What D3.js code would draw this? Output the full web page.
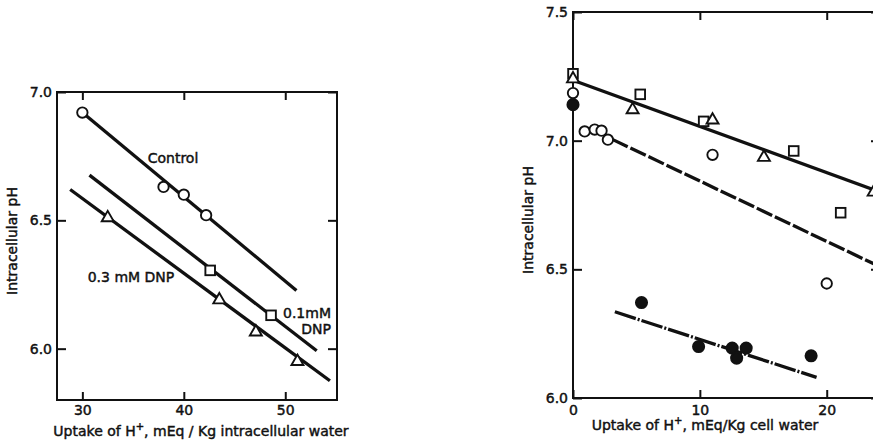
<!DOCTYPE html>
<html>
<head>
<meta charset="utf-8">
<script src="https://cdn.jsdelivr.net/npm/d3@7"></script>
<style>
  body { margin: 0; background: #fff; }
  svg { display: block; }
  text { font-family: "DejaVu Sans", sans-serif; font-size: 14px; fill: #111; stroke: #111; stroke-width: 0.45px; }
</style>
</head>
<body>
<svg id="chart" width="873" height="446"></svg>
<script>
// left panel: pH vs H+ uptake (intracellular water)
const leftXTicks = [30, 40, 50];
const leftYTicks = [6.0, 6.5, 7.0];
const controlX = [30, 38, 40, 42.2];
const controlY = [6.92, 6.63, 6.60, 6.52];
const dnp01X = [42.6, 48.6];
const dnp01Y = [6.305, 6.13];
const dnp03X = [32.5, 43.5, 47.1, 51.2];
const dnp03Y = [6.51, 6.19, 6.065, 5.95];
const controlFit = [[30, 6.92], [51.1, 6.227]];
const dnp01Fit = [[30.7, 6.676], [53.1, 5.992]];
const dnp03Fit = [[28.8, 6.62], [54.4, 5.875]];

// right panel: pH vs H+ uptake (cell water)
const rightXTicks = [0, 10, 20];
const rightYTicks = [6.0, 6.5, 7.0, 7.5];
const squareX = [0, 5.3, 10.3, 17.4, 21.1];
const squareY = [7.26, 7.18, 7.075, 6.96, 6.72];
const triangleX = [0, 4.7, 11.0, 15.05, 23.7];
const triangleY = [7.24, 7.12, 7.08, 6.935, 6.80];
const openX = [0, 0.92, 1.71, 2.25, 2.75, 11.0, 20.0];
const openY = [7.185, 7.036, 7.043, 7.039, 7.004, 6.945, 6.445];
const filledX = [0, 5.4, 9.9, 12.55, 12.9, 13.65, 18.77];
const filledY = [7.14, 6.371, 6.2, 6.194, 6.155, 6.194, 6.164];
const solidFit = [[0, 7.235], [24.2, 6.80]];
const dashFit = [[3.1, 7.005], [24.2, 6.51]];
const dashDotFit = [[3.3, 6.335], [19.2, 6.08]];

const svg = d3.select("#chart");
const ink = "#111";

function zip(xs, ys) { return xs.map((x, i) => [x, ys[i]]); }

function panel(opts) {
    const x = d3.scaleLinear().domain(opts.xDomain).range(opts.xRange);
    const y = d3.scaleLinear().domain(opts.yDomain).range(opts.yRange);
    const g = svg.append("g");

    // frame
    g.append("rect")
        .attr("x", opts.xRange[0]).attr("y", opts.yRange[1])
        .attr("width", opts.xRange[1] - opts.xRange[0])
        .attr("height", opts.yRange[0] - opts.yRange[1])
        .attr("fill", "none").attr("stroke", ink).attr("stroke-width", 2);

    // inward ticks on every side
    const bottom = g.append("g").attr("transform", "translate(0," + opts.yRange[0] + ")")
        .call(d3.axisBottom(x).tickValues(opts.xTicks).tickSize(-8).tickPadding(opts.xPad).tickFormat(d3.format("d")));
    const top = g.append("g").attr("transform", "translate(0," + opts.yRange[1] + ")")
        .call(d3.axisTop(x).tickValues(opts.xTicks).tickSize(-8).tickFormat(""));
    const left = g.append("g").attr("transform", "translate(" + opts.xRange[0] + ",0)")
        .call(d3.axisLeft(y).tickValues(opts.yTicks).tickSize(-9).tickPadding(5).tickFormat(d3.format(".1f")));
    const right = g.append("g").attr("transform", "translate(" + opts.xRange[1] + ",0)")
        .call(d3.axisRight(y).tickValues(opts.yTicks).tickSize(-9).tickFormat(""));
    [bottom, top, left, right].forEach(a => {
        a.select(".domain").remove();
        a.selectAll("line").attr("stroke", ink).attr("stroke-width", 2);
        a.selectAll("text").attr("font-family", "DejaVu Sans").attr("font-size", 14).attr("fill", ink);
    });

    // fitted lines
    const line = d3.line().x(d => x(d[0])).y(d => y(d[1]));
    opts.fits.forEach(f => {
        g.append("path").attr("d", line(f.pts))
            .attr("fill", "none").attr("stroke", ink).attr("stroke-width", 3.3)
            .attr("stroke-dasharray", f.dash || null);
    });

    // points
    opts.series.forEach(s => {
        const pts = zip(s.xs, s.ys);
        if (s.shape === "circle") {
            g.selectAll(null).data(pts).enter().append("circle")
                .attr("cx", d => x(d[0])).attr("cy", d => y(d[1])).attr("r", s.filled ? 5.6 : 5.2)
                .attr("fill", s.filled ? ink : "#fff").attr("stroke", ink).attr("stroke-width", 1.9);
        } else if (s.shape === "square") {
            g.selectAll(null).data(pts).enter().append("rect")
                .attr("x", d => x(d[0]) - 4.8).attr("y", d => y(d[1]) - 4.8)
                .attr("width", 9.6).attr("height", 9.6)
                .attr("fill", "#fff").attr("stroke", ink).attr("stroke-width", 1.9);
        } else {
            g.selectAll(null).data(pts).enter().append("path")
                .attr("d", d3.symbol(d3.symbolTriangle, 62))
                .attr("transform", d => "translate(" + x(d[0]) + "," + y(d[1]) + ")")
                .attr("fill", "#fff").attr("stroke", ink).attr("stroke-width", 1.9);
        }
    });

    // axis titles
    g.append("text")
        .attr("transform", "translate(" + opts.yLabelPos[0] + "," + opts.yLabelPos[1] + ") rotate(-90)")
        .attr("text-anchor", "middle").attr("dy", "0.35em")
        .text("Intracellular pH");
    const xl = g.append("text")
        .attr("x", opts.xLabelPos[0]).attr("y", opts.xLabelPos[1])
        .attr("text-anchor", "middle").attr("dy", "0.35em");
    xl.append("tspan").text("Uptake of H");
    xl.append("tspan").attr("font-size", 10).attr("dy", "-0.6em").text("+");
    xl.append("tspan").attr("dy", "0.4em").text(opts.xLabelTail);

    return { g, x, y };
}

const L = panel({
    xDomain: [27.5, 55.1], xRange: [57, 337],
    yDomain: [5.8, 7.0], yRange: [400, 92],
    xTicks: leftXTicks, yTicks: leftYTicks, xPad: 5,
    fits: [{ pts: controlFit }, { pts: dnp01Fit }, { pts: dnp03Fit }],
    series: [
        { xs: controlX, ys: controlY, shape: "circle" },
        { xs: dnp01X, ys: dnp01Y, shape: "square" },
        { xs: dnp03X, ys: dnp03Y, shape: "triangle" }
    ],
    yLabelPos: [12, 241], xLabelPos: [201, 431],
    xLabelTail: ", mEq / Kg intracellular water"
});

L.g.append("text").attr("x", 173).attr("y", 163).attr("text-anchor", "middle").text("Control");
L.g.append("text").attr("x", 131).attr("y", 282).attr("text-anchor", "middle").text("0.3 mM DNP");
L.g.append("text").attr("x", 331).attr("y", 318).attr("text-anchor", "end").text("0.1mM");
L.g.append("text").attr("x", 331).attr("y", 334).attr("text-anchor", "end").text("DNP");

panel({
    xDomain: [0, 24.2], xRange: [573, 880],
    yDomain: [6.0, 7.5], yRange: [398, 12],
    xTicks: rightXTicks, yTicks: rightYTicks, xPad: 7,
    fits: [{ pts: solidFit }, { pts: dashFit, dash: "17,3" }, { pts: dashDotFit, dash: "22,2,2,2" }],
    series: [
        { xs: openX, ys: openY, shape: "circle" },
        { xs: filledX, ys: filledY, shape: "circle", filled: true },
        { xs: squareX, ys: squareY, shape: "square" },
        { xs: triangleX, ys: triangleY, shape: "triangle" }
    ],
    yLabelPos: [528, 220], xLabelPos: [705, 425],
    xLabelTail: ", mEq/Kg cell water"
});
</script>
</body>
</html>
